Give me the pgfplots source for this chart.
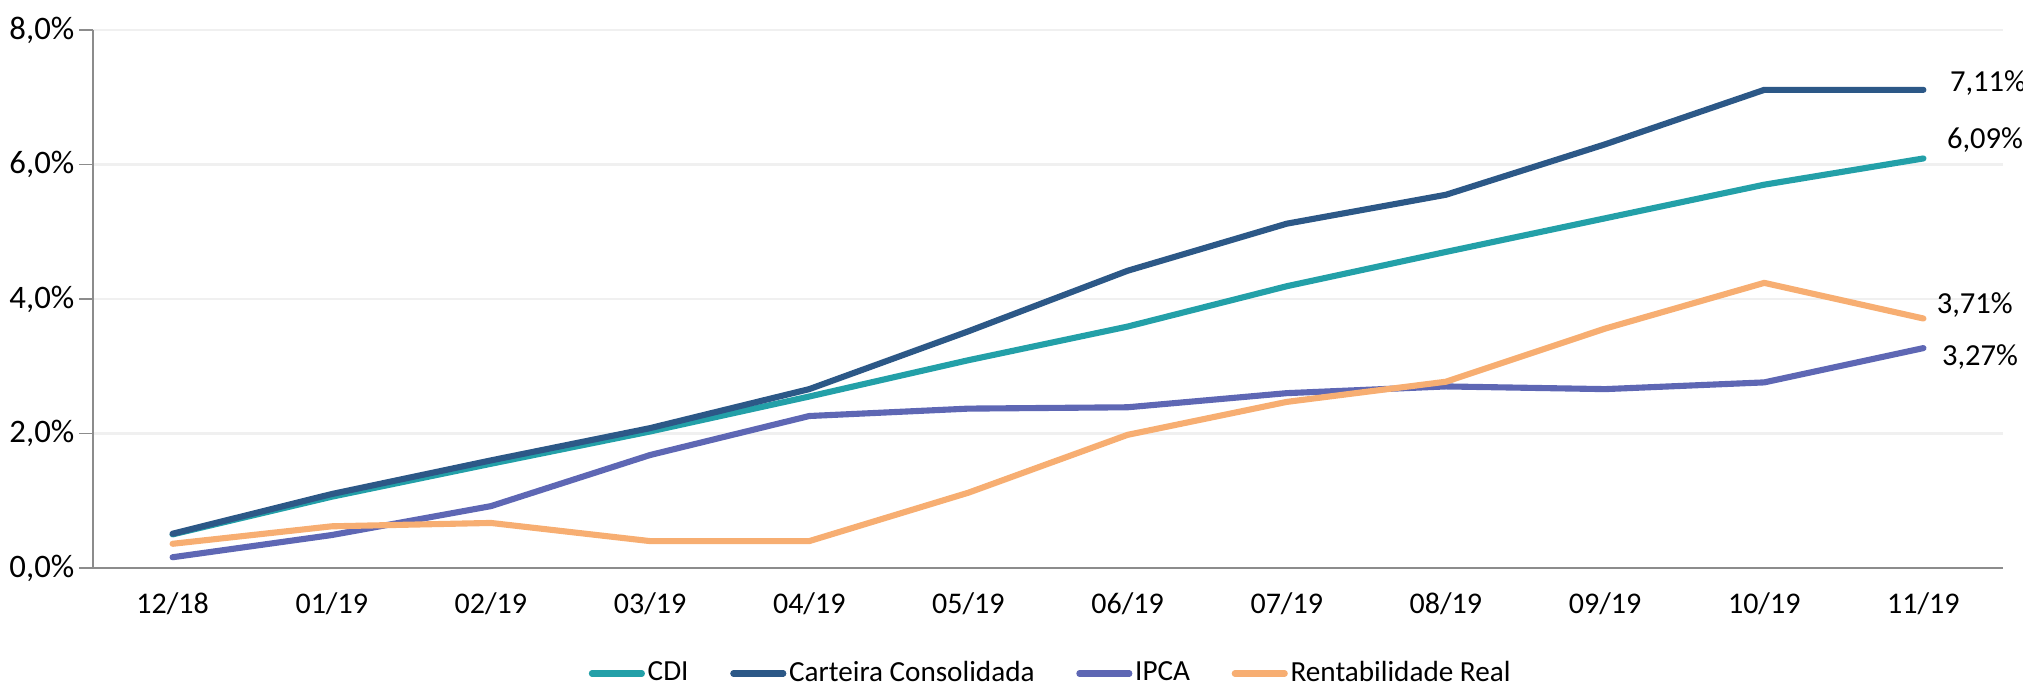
\documentclass[border=0pt]{standalone}
\usepackage{pgfplots}
\pgfplotsset{compat=1.18}
\usepackage{fontspec}
\setmainfont{Carlito}
\definecolor{cdi}{RGB}{35,160,168}
\definecolor{cart}{RGB}{44,88,135}
\definecolor{ipca}{RGB}{94,103,180}
\definecolor{rent}{RGB}{247,174,114}
\definecolor{axisgray}{RGB}{140,140,140}
\definecolor{gridgray}{RGB}{240,240,240}
\begin{document}
\fontsize{10.6pt}{12.7pt}\selectfont
\begin{tikzpicture}
\path[use as bounding box] (-33.48pt,-42.12pt) rectangle (694.8pt,204.48pt);
\begin{axis}[
  at={(0,0)}, anchor=south west,
  scale only axis,
  width=687.6pt, height=193.68pt,
  xmin=-0.5, xmax=11.5, ymin=0, ymax=8,
  axis lines=left,
  axis line style={axisgray, line width=0.7pt, -},
  xtick={0,...,11},
  xticklabels={12/18,01/19,02/19,03/19,04/19,05/19,06/19,07/19,08/19,09/19,10/19,11/19},
  major x tick style={draw=none},
  extra x ticks={-0.5,0.5,...,11.5},
  extra x tick labels={},
  extra x tick style={tick style={axisgray, line width=0.7pt}, major tick length=5pt, tick align=outside},
  xticklabel style={font=\fontsize{10.8pt}{12.7pt}\selectfont, yshift=0pt},
  ytick={0,2,4,6,8},
  yticklabels={{0,0\%},{2,0\%},{4,0\%},{6,0\%},{8,0\%}},
  yticklabel style={font=\fontsize{11.8pt}{13pt}\selectfont, xshift=2pt},
  ytick style={axisgray, line width=0.7pt},
  tick align=outside,
  major tick length=5pt,
  ymajorgrids,
  grid style={gridgray, line width=0.8pt},
  legend columns=4,
  legend style={at={(0.5016,-0.196)}, anchor=center, draw=none, fill=none,
    font=\fontsize{10.5pt}{13pt}\selectfont,
    nodes={inner xsep=1pt}},
  legend image code/.code={\draw[#1, line width=2.2pt, line cap=round] (0pt,0pt) -- (18pt,0pt);},
  every axis plot/.append style={line width=2.2pt, line cap=round, line join=round, mark=none},
  clip=false,
]
\addplot[cdi] coordinates {(0,0.50) (1,1.06) (2,1.55) (3,2.03) (4,2.55) (5,3.09) (6,3.59) (7,4.19) (8,4.70) (9,5.20) (10,5.70) (11,6.09)};
\addlegendentry{CDI\rule{14pt}{0pt}}
\addplot[cart] coordinates {(0,0.51) (1,1.10) (2,1.60) (3,2.08) (4,2.66) (5,3.52) (6,4.42) (7,5.12) (8,5.55) (9,6.30) (10,7.11) (11,7.11)};
\addlegendentry{Carteira Consolidada\rule{14pt}{0pt}}
\addplot[ipca] coordinates {(0,0.16) (1,0.49) (2,0.92) (3,1.68) (4,2.26) (5,2.37) (6,2.39) (7,2.60) (8,2.70) (9,2.66) (10,2.76) (11,3.27)};
\addlegendentry{IPCA\rule{14pt}{0pt}}
\addplot[rent] coordinates {(0,0.36) (1,0.62) (2,0.67) (3,0.40) (4,0.40) (5,1.12) (6,1.98) (7,2.47) (8,2.77) (9,3.56) (10,4.24) (11,3.71)};
\addlegendentry{Rentabilidade Real}
\node[anchor=west, inner sep=0pt, xshift=9.4pt, yshift=2.5pt, font=\fontsize{11pt}{13pt}\selectfont] at (axis cs:11,7.11) {7,11\%};
\node[anchor=west, inner sep=0pt, xshift=8.3pt, yshift=6.5pt, font=\fontsize{11pt}{13pt}\selectfont] at (axis cs:11,6.09) {6,09\%};
\node[anchor=west, inner sep=0pt, xshift=4.6pt, yshift=5pt, font=\fontsize{11pt}{13pt}\selectfont] at (axis cs:11,3.71) {3,71\%};
\node[anchor=west, inner sep=0pt, xshift=6.5pt, yshift=-3.2pt, font=\fontsize{11pt}{13pt}\selectfont] at (axis cs:11,3.27) {3,27\%};
\end{axis}
\end{tikzpicture}
\end{document}
